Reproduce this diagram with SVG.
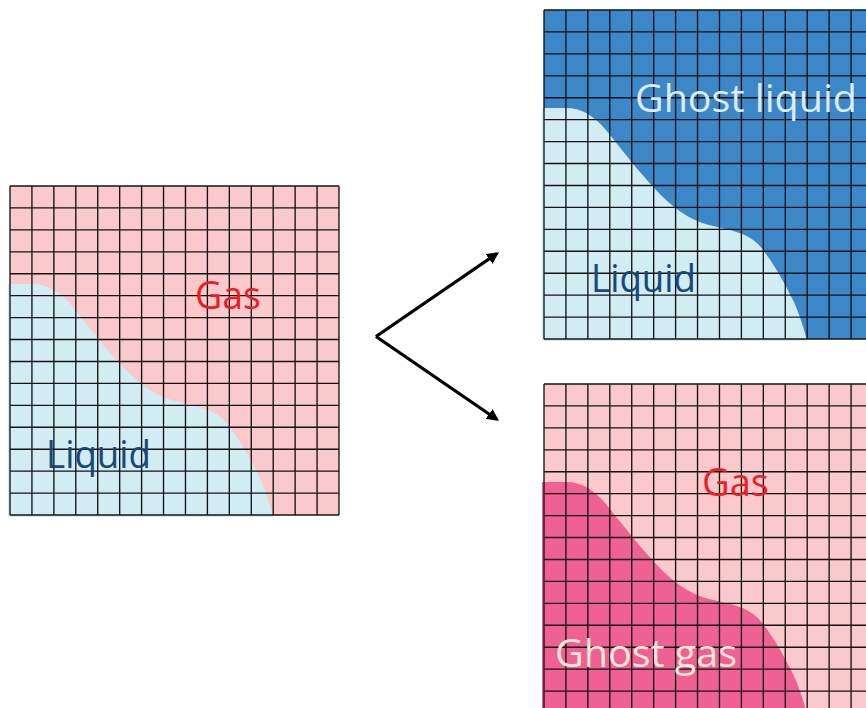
<svg xmlns="http://www.w3.org/2000/svg" xmlns:xlink="http://www.w3.org/1999/xlink" width="866" height="708" viewBox="0 0 866 708">
  <style>
    .lbl { font-family: "Open Sans", "Noto Sans", "Liberation Sans", sans-serif; font-size: 38.5px; }
    .gas { fill: #EE1D25; }
    .liq { fill: #17487A; }
    .ghost-liq { fill: #DCEBF7; }
    .ghost-gas { fill: #FBE6D7; }
    .grid { fill: none; stroke: #141414; stroke-width: 1.35; }
    .arrow { fill: none; stroke: #000; stroke-width: 3.3; marker-end: url(#head); }
  </style>
  <defs>
    <!-- 15 x 15 cell mesh, 329 px square -->
    <path id="mesh" class="grid" d="M0,0V329 M21.93,0V329 M43.87,0V329 M65.8,0V329 M87.73,0V329 M109.67,0V329 M131.6,0V329 M153.53,0V329 M175.47,0V329 M197.4,0V329 M219.33,0V329 M241.27,0V329 M263.2,0V329 M285.13,0V329 M307.07,0V329 M329,0V329 M0,0H329 M0,21.93H329 M0,43.87H329 M0,65.8H329 M0,87.73H329 M0,109.67H329 M0,131.6H329 M0,153.53H329 M0,175.47H329 M0,197.4H329 M0,219.33H329 M0,241.27H329 M0,263.2H329 M0,285.13H329 M0,307.07H329 M0,329H329"/>
    <!-- liquid / gas interface, lower-left region -->
    <path id="blob" d="M-2,98 L22,98 C38,98 50,106 62,120 C78,140 95,162 112,180 C128,197 145,210 165,215 C185,220 202,222 214,234 C228,250 240,272 250,292 C256,306 260,318 263,331 L-2,331 Z"/>
    <marker id="head" viewBox="0 0 10 10" refX="8" refY="5" markerWidth="12" markerHeight="12" markerUnits="userSpaceOnUse" orient="auto">
      <path d="M0,0 L10,5 L0,10 Z" fill="#000"/>
    </marker>
  </defs>

  <!-- two-phase domain -->
  <g id="domain" transform="translate(10,186)">
    <rect width="329" height="329" fill="#F9C9CB"/>
    <use xlink:href="#blob" fill="#D1ECF2"/>
    <use xlink:href="#mesh"/>
    <text class="lbl gas" x="185" y="123" textLength="66" lengthAdjust="spacingAndGlyphs">Gas</text>
    <text class="lbl liq" x="36" y="282" textLength="105" lengthAdjust="spacingAndGlyphs">Liquid</text>
  </g>

  <!-- liquid domain with ghost liquid -->
  <g id="liquid-domain" transform="translate(544,10)">
    <rect width="329" height="329" fill="#3B87C8"/>
    <use xlink:href="#blob" fill="#D1ECF2"/>
    <use xlink:href="#mesh"/>
    <text class="lbl ghost-liq" x="91" y="102" textLength="222" lengthAdjust="spacingAndGlyphs">Ghost liquid</text>
    <text class="lbl liq" x="47" y="282" textLength="105" lengthAdjust="spacingAndGlyphs">Liquid</text>
  </g>

  <!-- gas domain with ghost gas -->
  <g id="gas-domain" transform="translate(544,384)">
    <rect width="329" height="329" fill="#F9C9CB"/>
    <use xlink:href="#blob" fill="#EF6093"/>
    <use xlink:href="#mesh"/>
    <text class="lbl gas" x="158" y="112" textLength="67" lengthAdjust="spacingAndGlyphs">Gas</text>
    <text class="lbl ghost-gas" x="11" y="283" textLength="182" lengthAdjust="spacingAndGlyphs">Ghost gas</text>
  </g>

  <g id="connectors">
    <polyline class="arrow" points="376,336.5 497,253.5"/>
    <polyline class="arrow" points="376,336.5 497,419.5"/>
  </g>
</svg>
